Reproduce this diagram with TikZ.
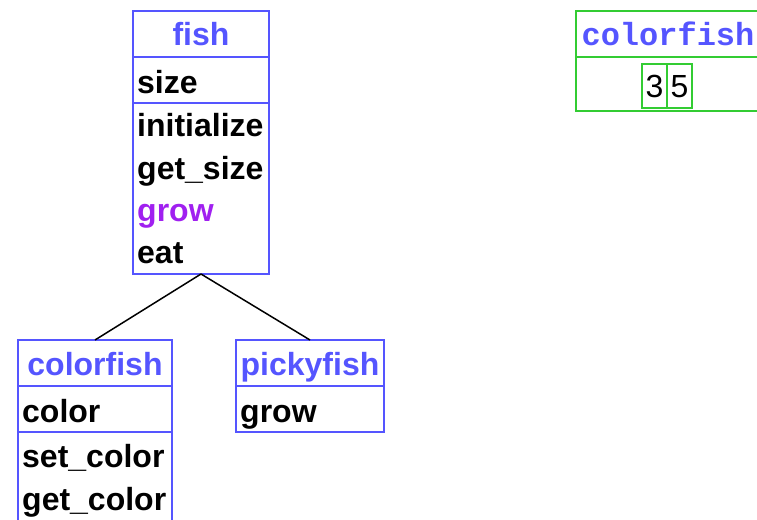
\documentclass[tikz,border=0pt]{standalone}
\usepackage{fontspec}
\usetikzlibrary{positioning}
\setmainfont{Liberation Sans}
\setmonofont{Liberation Mono}
\definecolor{clsblue}{RGB}{85,85,255}
\definecolor{growpurple}{RGB}{160,32,240}
\definecolor{objgreen}{RGB}{51,204,51}
\tikzset{
  box/.style={rectangle, draw=clsblue, line width=2pt, inner sep=0pt,
    outer sep=0pt, anchor=north west},
  clsname/.style={box, text=clsblue, text height=24pt, text depth=0pt,
    font=\fontsize{32}{38}\selectfont\bfseries},
  member/.style={inner sep=0pt, anchor=base west,
    font=\fontsize{32}{38}\selectfont\bfseries},
  objbox/.style={box, draw=objgreen},
  cell/.style={objbox, minimum width=25, minimum height=44,
    text height=23pt, text depth=0pt, font=\fontsize{32}{38}\selectfont},
  tree/.style={line width=1.5pt, black}
}
\begin{document}
\begin{tikzpicture}[x=1pt, y=-1pt]
  \clip (0,0) rectangle (757,519);
  % class fish
  \node[clsname, minimum width=136, minimum height=46] (fish) at (133,11) {fish};
  \node[box, minimum width=136, minimum height=46] (fishattr) at (133,57) {};
  \node[box, minimum width=136, minimum height=171] (fishops) at (133,103) {};
  \node[member] (size) at (137,93) {size};
  \node[member] (init) at (137,136) {initialize};
  \node[member] (getsize) at (137,179) {get\_size};
  \node[member, text=growpurple] (grow) at (137,221) {grow};
  \node[member] (eat) at (137,263) {eat};
  % class colorfish
  \node[clsname, minimum width=154, minimum height=46] (cfish) at (18,340) {colorfish};
  \node[box, minimum width=154, minimum height=46] (cfishattr) at (18,386) {};
  \node[box, minimum width=154, minimum height=100] (cfishops) at (18,432) {};
  \node[member] (color) at (22,422) {color};
  \node[member] (setcolor) at (22,467) {set\_color};
  \node[member] (getcolor) at (22,510) {get\_color};
  % class pickyfish
  \node[clsname, minimum width=148, minimum height=46] (pfish) at (236,340) {pickyfish};
  \node[box, minimum width=148, minimum height=46] (pfishattr) at (236,386) {};
  \node[member] (pgrow) at (240,422) {grow};
  % inheritance
  \draw[tree] (fishops.south) -- (cfish.north);
  \draw[tree] (fishops.south) -- (pfish.north);
  % object colorfish
  \node[objbox, text=clsblue, minimum width=184, minimum height=46,
    text height=23pt, text depth=0pt,
    font=\fontsize{32}{38}\selectfont\ttfamily\bfseries] (obj) at (576,11) {colorfish};
  \node[objbox, minimum width=184, minimum height=54] (objval) at (576,57) {};
  \node[cell] (v3) at (642,64) {3};
  \node[cell, right=0pt of v3] (v5) {5};
\end{tikzpicture}
\end{document}
